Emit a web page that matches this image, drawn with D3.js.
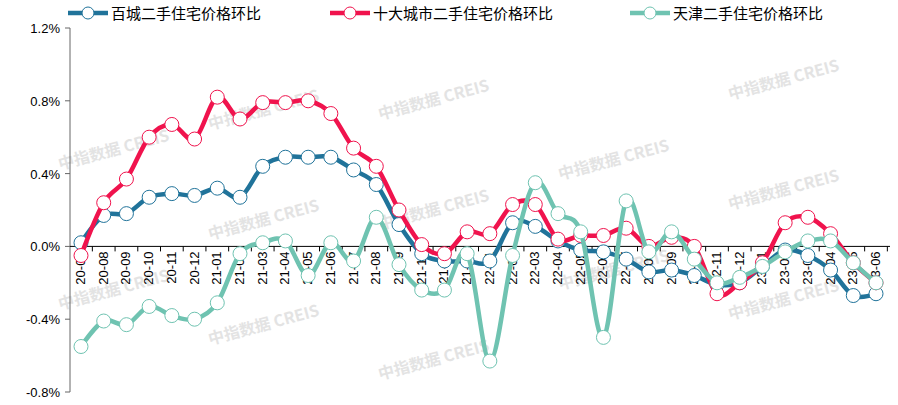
<!DOCTYPE html><html><head><meta charset="utf-8"><script src="https://cdn.jsdelivr.net/npm/d3@7"></script>
<style>body{margin:0;background:#fff}</style></head><body><svg id="c" width="898" height="405"></svg><script>
const categories=["20-07","20-08","20-09","20-10","20-11","20-12","21-01","21-02","21-03","21-04","21-05","21-06","21-07","21-08","21-09","21-10","21-11","21-12","22-01","22-02","22-03","22-04","22-05","22-06","22-07","22-08","22-09","22-10","22-11","22-12","23-01","23-02","23-03","23-04","23-05","23-06"];
const baicheng=[0.02,0.17,0.18,0.27,0.29,0.28,0.32,0.27,0.44,0.49,0.49,0.49,0.42,0.34,0.12,-0.04,-0.08,-0.08,-0.08,0.13,0.11,0.03,-0.02,-0.03,-0.07,-0.14,-0.13,-0.16,-0.21,-0.2,-0.11,-0.02,-0.05,-0.13,-0.27,-0.26];
const shida=[-0.05,0.24,0.37,0.60,0.67,0.59,0.82,0.70,0.79,0.79,0.80,0.73,0.54,0.44,0.20,0.01,-0.04,0.08,0.07,0.23,0.23,0.04,0.06,0.06,0.10,0.0,0.05,0.0,-0.26,-0.20,-0.09,0.13,0.16,0.07,-0.09,-0.20];
const tianjin=[-0.55,-0.41,-0.43,-0.33,-0.38,-0.40,-0.31,-0.04,0.02,0.03,-0.16,0.02,-0.08,0.16,-0.10,-0.24,-0.24,-0.04,-0.63,-0.05,0.35,0.18,0.08,-0.50,0.25,-0.03,0.08,-0.07,-0.20,-0.17,-0.11,-0.03,0.03,0.03,-0.09,-0.20];
const yTicks=[-0.8,-0.4,0,0.4,0.8,1.2];
const seriesNames=["百城二手住宅价格环比","十大城市二手住宅价格环比","天津二手住宅价格环比"];
const colors=["#20739a","#f0134d","#6fc3b1"];
const svg=d3.select("#c");
const x=d3.scalePoint().domain(categories).range([81,876]);
const y=d3.scaleLinear().domain([-0.8,1.2]).range([392,28]);
// watermarks
const wm=[[60,170],[210,130],[210,240],[210,345],[380,120],[380,230],[380,380],[560,180],[560,290],[730,100],[730,210],[730,320],[60,310]];
wm.forEach(([a,b])=>svg.append("text").attr("x",a).attr("y",b).attr("transform",`rotate(-15,${a},${b})`).attr("font-family","Noto Sans CJK SC").attr("font-size",16).attr("font-weight","bold").attr("fill","#ddd").attr("opacity",0.8).text("中指数据  CREIS"));
// y axis
svg.append("line").attr("x1",70).attr("x2",70).attr("y1",28).attr("y2",392).attr("stroke","#666");
yTicks.forEach(t=>{svg.append("line").attr("x1",65).attr("x2",70).attr("y1",y(t)).attr("y2",y(t)).attr("stroke","#666");
svg.append("text").attr("x",60).attr("y",y(t)+5).attr("text-anchor","end").attr("font-family","Liberation Sans").attr("font-size",13).text(t.toFixed(1)+"%");});
// x axis
svg.append("line").attr("x1",70).attr("x2",890).attr("y1",y(0)).attr("y2",y(0)).attr("stroke","#000");
const step=x.step();
categories.forEach((c,i)=>{const xx=x(c)+step/2;if(i<categories.length-1||true)svg.append("line").attr("x1",xx).attr("x2",xx).attr("y1",y(0)).attr("y2",y(0)+5).attr("stroke","#000");
const lx=x(c)+4;svg.append("text").attr("transform",`translate(${lx},${y(0)+5}) rotate(-90)`).attr("text-anchor","end").attr("font-family","Liberation Sans").attr("font-size",13).text(c);});
const line=d3.line().x((d,i)=>x(categories[i])).y(d=>y(d)).curve(d3.curveCardinal.tension(0));
[baicheng,shida,tianjin].forEach((s,k)=>{
svg.append("path").attr("d",line(s)).attr("fill","none").attr("stroke",colors[k]).attr("stroke-width",4.5);
svg.selectAll(null).data(s).enter().append("circle").attr("cx",(d,i)=>x(categories[i])).attr("cy",d=>y(d)).attr("r",7).attr("fill","#fff").attr("stroke",colors[k]).attr("stroke-width",1);});
// legend
const lp=[68,330,630];
seriesNames.forEach((n,k)=>{const g=svg.append("g").attr("transform",`translate(${lp[k]},13)`);
g.append("line").attr("x1",0).attr("x2",40).attr("stroke",colors[k]).attr("stroke-width",4.5);
g.append("circle").attr("cx",20).attr("r",6).attr("fill","#fff").attr("stroke",colors[k]);
g.append("text").attr("x",43).attr("y",6).attr("font-family","Noto Sans CJK SC").attr("font-size",15).text(n);});
</script></body></html>
